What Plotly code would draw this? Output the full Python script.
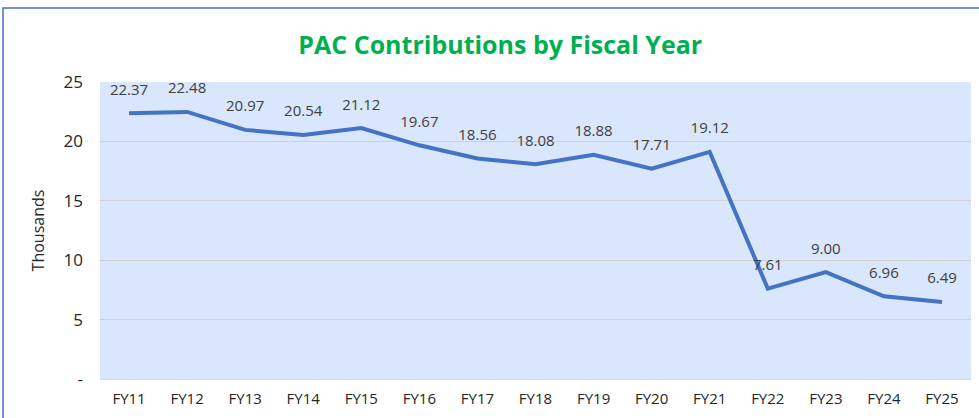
import plotly.graph_objects as go

categories = ["FY11", "FY12", "FY13", "FY14", "FY15", "FY16", "FY17", "FY18",
              "FY19", "FY20", "FY21", "FY22", "FY23", "FY24", "FY25"]
values = [22.37, 22.48, 20.97, 20.54, 21.12, 19.67, 18.56, 18.08,
          18.88, 17.71, 19.12, 7.61, 9.00, 6.96, 6.49]
y_tickvals = [0, 5, 10, 15, 20, 25]
y_ticktext = ["-", "5", "10", "15", "20", "25"]

W, H = 979, 418
L, T = 100, 82
R = W - 971
B = H - 379
pw, ph = W - L - R, H - T - B

fig = go.Figure()
fig.add_trace(go.Scatter(
    x=categories, y=values, mode="lines+markers+text",
    text=[f"{v:.2f}" for v in values], textposition="top center",
    textfont=dict(family="Open Sans", size=15, color="#404040"),
    marker=dict(size=22, opacity=0),
    line=dict(color="#4472C4", width=4), cliponaxis=False,
    hoverinfo="x+y",
))

def px_to_paper_x(p):
    return (p - L) / pw

def px_to_paper_y(p):
    return 1 + (T - p) / ph

fig.add_shape(type="rect", xref="paper", yref="paper",
              x0=px_to_paper_x(3), x1=px_to_paper_x(990),
              y0=px_to_paper_y(430), y1=px_to_paper_y(8),
              line=dict(color="#4472C4", width=1.5), fillcolor="rgba(0,0,0,0)",
              layer="below")

fig.update_layout(
    width=W, height=H,
    margin=dict(l=L, r=R, t=T, b=B, autoexpand=False),
    paper_bgcolor="white", plot_bgcolor="#D9E6FB",
    showlegend=False,
    title=dict(text="<b>PAC Contributions by Fiscal Year</b>", x=0.511, xanchor="center",
               y=1 - 45 / H, yanchor="middle",
               font=dict(family="Open Sans", size=25, color="#00B050")),
    font=dict(family="Open Sans", color="#262626"),
)
fig.update_xaxes(type="category", range=[-0.5, 14.5], showgrid=False, automargin=False,
                 tickfont=dict(size=15, color="#262626"), ticks="", ticklabelstandoff=6,
                 showline=True, linecolor="#D9D9D9", linewidth=1)
fig.update_yaxes(range=[0, 25], tickvals=y_tickvals, ticktext=y_ticktext,
                 showgrid=True, gridcolor="#D0D0D0", gridwidth=1, zeroline=False,
                 tickfont=dict(size=17, color="#262626"), ticks="", ticklabelstandoff=16,
                 automargin=False,
                 title=dict(text="Thousands", font=dict(size=16, color="#262626"), standoff=14))

fig.write_html("out.html", config={"displayModeBar": False},
               post_script="document.body.style.margin='0';document.body.style.overflow='hidden';")
